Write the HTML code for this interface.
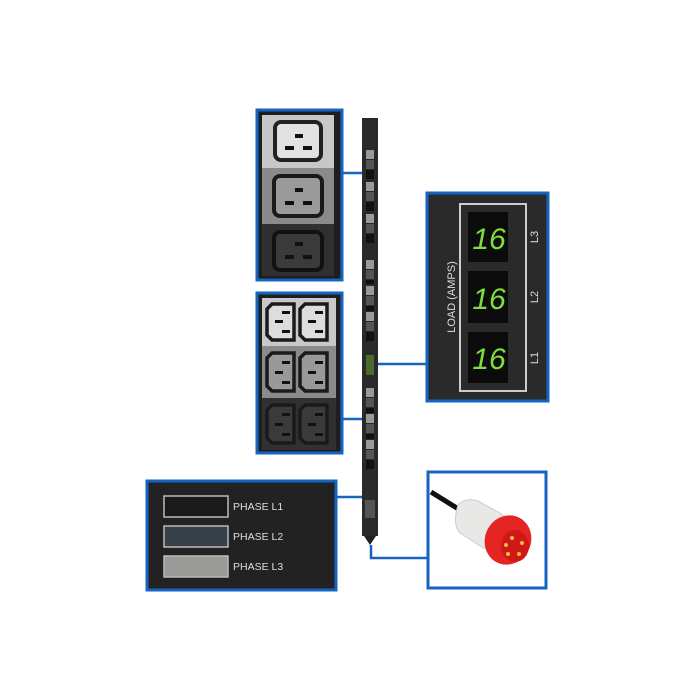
<!DOCTYPE html>
<html><head><style>body{margin:0;background:#fff}svg{display:block}</style></head><body>
<svg width="700" height="700" viewBox="0 0 700 700" xmlns="http://www.w3.org/2000/svg" font-family="Liberation Sans, sans-serif">
<rect width="700" height="700" fill="#fff"/>
<g stroke="#1565c0" stroke-width="2.5" fill="none">
<line x1="341" y1="173" x2="363" y2="173"/>
<line x1="341" y1="419" x2="363" y2="419"/>
<line x1="377" y1="364" x2="427" y2="364"/>
<line x1="336" y1="497" x2="363" y2="497"/>
<polyline points="371,545 371,558 428,558"/>
</g>
<rect x="362" y="118" width="16" height="418" fill="#2a2a2a"/>
<polygon points="364,536 376,536 370,545" fill="#222"/>
<g>
<rect x="366" y="150" width="8" height="9" fill="#999"/><rect x="366" y="160" width="8" height="9" fill="#555"/><rect x="366" y="170" width="8" height="9" fill="#111"/>
<rect x="366" y="182" width="8" height="9" fill="#999"/><rect x="366" y="192" width="8" height="9" fill="#555"/><rect x="366" y="202" width="8" height="9" fill="#111"/>
<rect x="366" y="214" width="8" height="9" fill="#999"/><rect x="366" y="224" width="8" height="9" fill="#555"/><rect x="366" y="234" width="8" height="9" fill="#111"/>
<rect x="366" y="260" width="8" height="9" fill="#999"/><rect x="366" y="270" width="8" height="9" fill="#555"/><rect x="366" y="280" width="8" height="4" fill="#111"/>
<rect x="366" y="286" width="8" height="9" fill="#999"/><rect x="366" y="296" width="8" height="9" fill="#555"/><rect x="366" y="306" width="8" height="5" fill="#111"/>
<rect x="366" y="312" width="8" height="9" fill="#999"/><rect x="366" y="322" width="8" height="9" fill="#555"/><rect x="366" y="332" width="8" height="9" fill="#111"/>
<rect x="366" y="355" width="8" height="20" fill="#4a6a30"/>
<rect x="366" y="388" width="8" height="9" fill="#999"/><rect x="366" y="398" width="8" height="9" fill="#555"/><rect x="366" y="408" width="8" height="5" fill="#111"/>
<rect x="366" y="414" width="8" height="9" fill="#999"/><rect x="366" y="424" width="8" height="9" fill="#555"/><rect x="366" y="434" width="8" height="5" fill="#111"/>
<rect x="366" y="440" width="8" height="9" fill="#999"/><rect x="366" y="450" width="8" height="9" fill="#555"/><rect x="366" y="460" width="8" height="9" fill="#111"/>
<rect x="365" y="500" width="10" height="18" fill="#555"/>
</g>
<rect x="257" y="110" width="85" height="170" fill="#1e1e1e" stroke="#1565c0" stroke-width="3"/>
<rect x="262" y="115" width="72" height="53" fill="#c8c8c8"/>
<rect x="262" y="168" width="72" height="56" fill="#8a8a8a"/>
<rect x="262" y="224" width="72" height="52" fill="#303030"/>
<rect x="275" y="122" width="46" height="38" rx="6" fill="#e2e2e2" stroke="#222" stroke-width="4"/>
<rect x="274" y="176" width="48" height="40" rx="6" fill="#9a9a9a" stroke="#1a1a1a" stroke-width="4"/>
<rect x="274" y="232" width="48" height="38" rx="6" fill="#3a3a3a" stroke="#111" stroke-width="4"/>
<g fill="#111"><rect x="295" y="134" width="8" height="4"/><rect x="285" y="146" width="9" height="4"/><rect x="303" y="146" width="9" height="4"/>
<rect x="295" y="188" width="8" height="4"/><rect x="285" y="201" width="9" height="4"/><rect x="303" y="201" width="9" height="4"/>
<rect x="295" y="242" width="8" height="4"/><rect x="285" y="255" width="9" height="4"/><rect x="303" y="255" width="9" height="4"/></g>
<rect x="257" y="293" width="85" height="160" fill="#1e1e1e" stroke="#1565c0" stroke-width="3"/>
<rect x="262" y="298" width="74" height="48" fill="#c8c8c8"/>
<rect x="262" y="346" width="74" height="52" fill="#8a8a8a"/>
<rect x="262" y="398" width="74" height="52" fill="#303030"/>
<g stroke="#1a1a1a" stroke-width="3.5">
<path d="M272,304 h22 v36 h-22 l-5,-5 v-26 z" fill="#ddd"/><path d="M305,304 h22 v36 h-22 l-5,-5 v-26 z" fill="#ddd"/>
<path d="M272,353 h22 v38 h-22 l-5,-5 v-28 z" fill="#999"/><path d="M305,353 h22 v38 h-22 l-5,-5 v-28 z" fill="#999"/>
<path d="M272,405 h22 v38 h-22 l-5,-5 v-28 z" fill="#3a3a3a"/><path d="M305,405 h22 v38 h-22 l-5,-5 v-28 z" fill="#3a3a3a"/>
</g>
<g fill="#111"><rect x="282" y="311" width="8" height="3"/><rect x="275" y="320" width="8" height="3"/><rect x="282" y="330" width="8" height="3"/>
<rect x="315" y="311" width="8" height="3"/><rect x="308" y="320" width="8" height="3"/><rect x="315" y="330" width="8" height="3"/>
<rect x="282" y="361" width="8" height="3"/><rect x="275" y="371" width="8" height="3"/><rect x="282" y="381" width="8" height="3"/>
<rect x="315" y="361" width="8" height="3"/><rect x="308" y="371" width="8" height="3"/><rect x="315" y="381" width="8" height="3"/>
<rect x="282" y="413" width="8" height="3"/><rect x="275" y="423" width="8" height="3"/><rect x="282" y="433" width="8" height="3"/>
<rect x="315" y="413" width="8" height="3"/><rect x="308" y="423" width="8" height="3"/><rect x="315" y="433" width="8" height="3"/></g>
<rect x="427" y="193" width="121" height="208" fill="#2a2a2a" stroke="#1565c0" stroke-width="3"/>
<rect x="460" y="204" width="66" height="187" fill="none" stroke="#ccc" stroke-width="2"/>
<rect x="468" y="212" width="40" height="50" fill="#0b0b0b"/>
<rect x="468" y="271" width="40" height="52" fill="#0b0b0b"/>
<rect x="468" y="332" width="40" height="51" fill="#0b0b0b"/>
<g fill="#7ddf3a" font-size="30" font-style="italic" text-anchor="middle">
<text x="489" y="249" transform="scale(1,1)">16</text>
<text x="489" y="309">16</text>
<text x="489" y="369">16</text>
</g>
<text transform="translate(455,297) rotate(-90)" text-anchor="middle" fill="#ddd" font-size="11">LOAD (AMPS)</text>
<g fill="#ddd" font-size="11">
<text transform="translate(538,237) rotate(-90)" text-anchor="middle">L3</text>
<text transform="translate(538,297) rotate(-90)" text-anchor="middle">L2</text>
<text transform="translate(538,358) rotate(-90)" text-anchor="middle">L1</text>
</g>
<rect x="147" y="481" width="189" height="109" fill="#222" stroke="#1565c0" stroke-width="3"/>
<rect x="164" y="496" width="64" height="21" fill="#1a1a1a" stroke="#bbb" stroke-width="1.5"/>
<rect x="164" y="526" width="64" height="21" fill="#38404a" stroke="#bbb" stroke-width="1.5"/>
<rect x="164" y="556" width="64" height="21" fill="#9a9a98" stroke="#bbb" stroke-width="1.5"/>
<g fill="#ddd" font-size="10.5"><text x="233" y="510">PHASE  L1</text><text x="233" y="540">PHASE  L2</text><text x="233" y="570">PHASE  L3</text></g>
<rect x="428" y="472" width="118" height="116" fill="#fff" stroke="#1565c0" stroke-width="3"/>
<path d="M431,492 L460,510" stroke="#111" stroke-width="5"/>
<path d="M458,505 q8,-8 20,-4 l22,12 q10,6 6,20 l-8,12 q-6,8 -16,2 l-22,-14 q-8,-8 -2,-28z" fill="#e8e8e6" stroke="#ccc"/>
<ellipse cx="508" cy="540" rx="23" ry="25" fill="#e52424" transform="rotate(25 508 540)"/>
<ellipse cx="515" cy="546" rx="14" ry="16" fill="#d01818"/>
<g fill="#e8c040"><circle cx="512" cy="538" r="2"/><circle cx="522" cy="543" r="2"/><circle cx="519" cy="554" r="2"/><circle cx="508" cy="554" r="2"/><circle cx="506" cy="545" r="2"/></g>
</svg>
</body></html>
